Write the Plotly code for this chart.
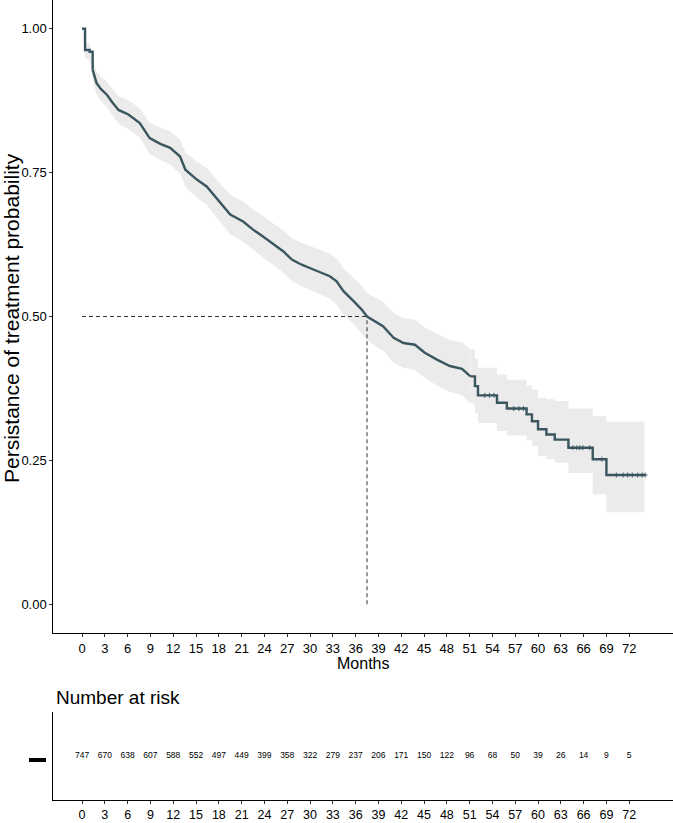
import plotly.graph_objects as go

# ---------------- data ----------------
months = [0, 0.4, 1.0, 1.4, 1.9, 2.5, 3.3, 4.0, 4.8, 6.1, 7.6, 8.9, 10.3, 11.6, 12.9, 13.6,
          15.1, 16.4, 17.7, 18.4, 19.5, 21.2, 22.5, 23.9, 25.2, 26.5, 27.6, 28.9, 30.2, 31.5,
          32.6, 33.5, 34.4, 35.7, 36.8, 37.5, 38.8, 39.6, 41.0, 42.3, 43.8, 45.1, 46.7, 48.4,
          50.0, 51.1, 51.7, 52.1, 54.6, 55.9, 58.5, 59.2, 60.0, 61.1, 62.2, 64.0, 67.2, 69.0, 74.1]
surv = [1.000, 0.963, 0.960, 0.929, 0.906, 0.895, 0.885, 0.872, 0.859, 0.851, 0.836, 0.810,
        0.800, 0.793, 0.778, 0.755, 0.738, 0.726, 0.706, 0.695, 0.677, 0.665, 0.651, 0.638,
        0.625, 0.613, 0.599, 0.590, 0.583, 0.576, 0.570, 0.561, 0.544, 0.527, 0.512, 0.500,
        0.489, 0.483, 0.463, 0.454, 0.451, 0.437, 0.425, 0.414, 0.409, 0.396, 0.379, 0.363,
        0.350, 0.340, 0.330, 0.318, 0.304, 0.295, 0.286, 0.272, 0.252, 0.2245, 0.2245]
lower = [1.000, 0.950, 0.946, 0.911, 0.886, 0.874, 0.863, 0.849, 0.835, 0.826, 0.810, 0.783,
         0.772, 0.764, 0.748, 0.725, 0.707, 0.694, 0.673, 0.662, 0.643, 0.630, 0.616, 0.602,
         0.589, 0.576, 0.562, 0.552, 0.545, 0.537, 0.531, 0.521, 0.504, 0.487, 0.471, 0.459,
         0.447, 0.441, 0.420, 0.411, 0.407, 0.393, 0.380, 0.369, 0.363, 0.349, 0.332, 0.315,
         0.301, 0.293, 0.285, 0.275, 0.257, 0.252, 0.246, 0.228, 0.191, 0.160, 0.160]
upper = [1.000, 0.976, 0.974, 0.947, 0.926, 0.916, 0.907, 0.895, 0.883, 0.876, 0.862, 0.837,
         0.828, 0.822, 0.808, 0.785, 0.769, 0.758, 0.739, 0.728, 0.711, 0.700, 0.686, 0.674,
         0.661, 0.650, 0.636, 0.628, 0.621, 0.615, 0.609, 0.601, 0.584, 0.567, 0.553, 0.541,
         0.531, 0.525, 0.506, 0.497, 0.495, 0.481, 0.470, 0.459, 0.455, 0.443, 0.426, 0.411,
         0.399, 0.390, 0.380, 0.373, 0.359, 0.356, 0.353, 0.340, 0.327, 0.317, 0.317]
band_end_month = 74.0

censor_months = [53.0, 53.6, 54.2, 56.8, 57.5, 58.1, 64.6, 65.1, 65.5, 65.9, 66.8, 68.4,
                 70.3, 71.2, 71.8, 72.4, 73.1, 73.7, 74.1]
censor_surv = [0.363, 0.363, 0.363, 0.340, 0.340, 0.340, 0.272, 0.272, 0.272, 0.272, 0.272,
               0.252, 0.2245, 0.2245, 0.2245, 0.2245, 0.2245, 0.2245, 0.2245]

median_month = 37.5
median_prob = 0.5

risk_months = list(range(0, 73, 3))
n_at_risk = [747, 670, 638, 607, 588, 552, 497, 449, 399, 358, 322, 279, 237, 206, 171,
             150, 122, 96, 68, 50, 39, 26, 14, 9, 5]

y_ticks = [0.0, 0.25, 0.5, 0.75, 1.0]
y_ticktext = ["0.00", "0.25", "0.50", "0.75", "1.00"]

# ---------------- figure ----------------
W, H = 673, 823
FONT = "Liberation Sans, Arial, sans-serif"
CURVE = "#3a565e"
x_range = [-3.78, 77.76]
x_dom = [53.3 / W, 1.0]

# segments: early steps, dense (near-continuous) middle, sparse steps at the end
EARLY_END = 3      # index of 1.4 months
DENSE_END = 45     # index of 51.1 months

band_x = months[:-1] + [band_end_month]

fig = go.Figure()


def band(i0, i1, shape):
    fig.add_trace(go.Scatter(x=band_x[i0:i1 + 1], y=lower[i0:i1 + 1], mode="lines",
                             line=dict(width=0, shape=shape), showlegend=False, hoverinfo="skip"))
    fig.add_trace(go.Scatter(x=band_x[i0:i1 + 1], y=upper[i0:i1 + 1], mode="lines",
                             line=dict(width=0, shape=shape), fill="tonexty", fillcolor="#ebebeb",
                             showlegend=False, hoverinfo="skip"))


band(0, DENSE_END, "linear")
band(DENSE_END, len(months) - 1, "hv")

# median dashed lines
fig.add_trace(go.Scatter(x=[0, median_month], y=[median_prob, median_prob], mode="lines",
                         line=dict(color="#333333", width=1, dash="4px,3px"),
                         showlegend=False, hoverinfo="skip"))
fig.add_trace(go.Scatter(x=[median_month, median_month], y=[0, median_prob], mode="lines",
                         line=dict(color="#333333", width=1, dash="4px,3px"),
                         showlegend=False, hoverinfo="skip"))

# KM curve
for i0, i1, shape in [(0, EARLY_END, "hv"), (EARLY_END, DENSE_END, "linear"),
                      (DENSE_END, len(months) - 1, "hv")]:
    fig.add_trace(go.Scatter(x=months[i0:i1 + 1], y=surv[i0:i1 + 1], mode="lines",
                             line=dict(color=CURVE, width=2.4, shape=shape),
                             showlegend=False))
# censor marks
fig.add_trace(go.Scatter(x=censor_months, y=censor_surv, mode="markers",
                         marker=dict(symbol="cross-thin", size=3.5, line=dict(color=CURVE, width=1)),
                         showlegend=False))

# risk table numbers
fig.add_trace(go.Scatter(x=risk_months, y=[0.5] * len(risk_months), mode="text",
                         text=[str(v) for v in n_at_risk],
                         textfont=dict(family=FONT, size=8.5, color="black"),
                         showlegend=False, xaxis="x2", yaxis="y2", hoverinfo="skip"))

axis_common = dict(showgrid=False, zeroline=False, showline=True, linecolor="black", linewidth=1,
                   ticks="outside", ticklen=3, tickcolor="#333333", tickwidth=1, automargin=False,
                   tickfont=dict(family=FONT, size=13, color="black"))
axis_risk = dict(axis_common, tickfont=dict(family=FONT, size=12.5, color="black"))

fig.update_layout(
    width=W, height=H,
    margin=dict(l=0, r=0, t=0, b=0, autoexpand=False),
    paper_bgcolor="white", plot_bgcolor="white",
    font=dict(family=FONT, color="black"),
    xaxis=dict(domain=x_dom, range=x_range, tickvals=risk_months, anchor="y", **axis_common),
    yaxis=dict(domain=[190 / H, 1.0], range=[-0.05, 1.05], tickvals=y_ticks, ticktext=y_ticktext,
               anchor="x", **axis_common),
    xaxis2=dict(domain=x_dom, range=x_range, tickvals=risk_months, anchor="y2", **axis_risk),
    yaxis2=dict(domain=[23 / H, 111 / H], range=[0, 1], anchor="x2", showgrid=False, zeroline=False,
                automargin=False, showline=True, linecolor="black", linewidth=1,
                showticklabels=False, ticks=""),
    annotations=[
        dict(text="Months", xref="paper", yref="paper", x=(x_dom[0] + x_dom[1]) / 2,
             y=(H - 663) / H, xanchor="center", yanchor="middle", showarrow=False,
             font=dict(family=FONT, size=16, color="black")),
        dict(text="Persistance of treatment probability", xref="paper", yref="paper",
             x=11 / W, y=(H - 318) / H, xanchor="center", yanchor="middle", textangle=-90,
             showarrow=False, font=dict(family=FONT, size=21, color="black")),
        dict(text="Number at risk", xref="paper", yref="paper", x=54 / W, y=(H - 697) / H,
             xanchor="left", yanchor="middle", showarrow=False,
             font=dict(family=FONT, size=19, color="black")),
    ],
    shapes=[
        dict(type="line", xref="paper", yref="paper", x0=29 / W, x1=46 / W,
             y0=(H - 760) / H, y1=(H - 760) / H, line=dict(color="black", width=4)),
    ],
)

fig.write_html("out.html", config={"displayModeBar": False},
               post_script="document.body.style.margin='0';document.body.style.overflow='hidden';")
